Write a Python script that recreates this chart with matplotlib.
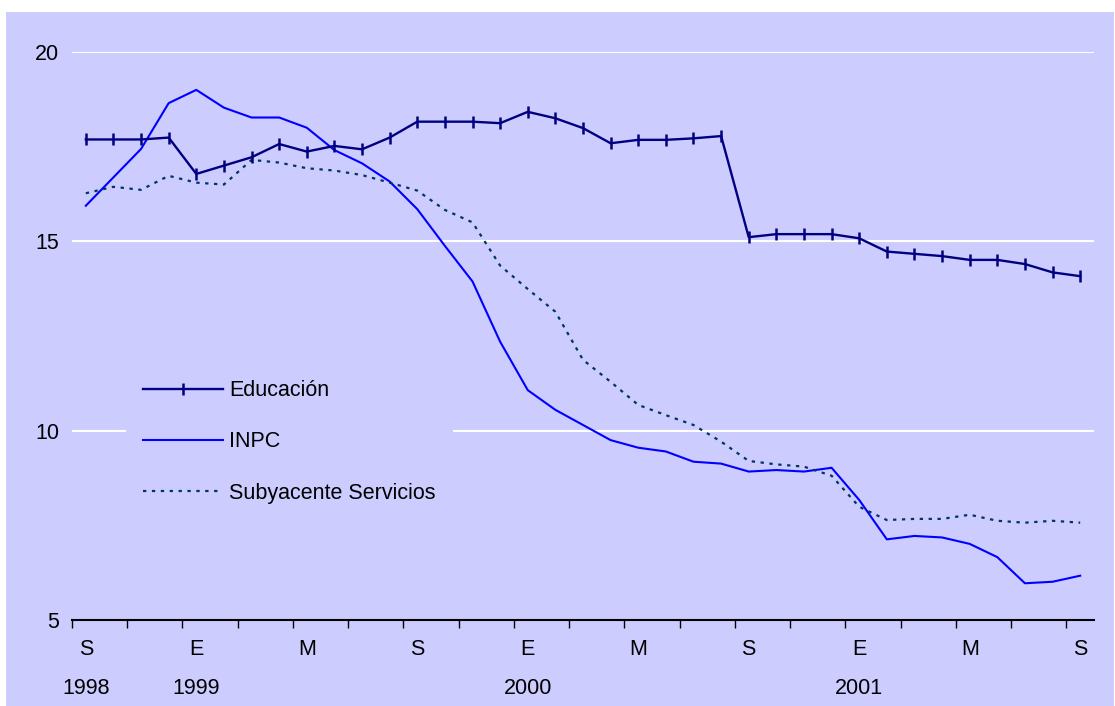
import numpy as np
import matplotlib.pyplot as plt
from matplotlib.patches import Rectangle

plt.rcParams['font.family'] = ['Liberation Sans', 'DejaVu Sans']

# Datos mensuales, sep 1998 - sep 2001
educacion = [17.69, 17.69, 17.69, 17.74, 16.78, 17.00, 17.22, 17.57, 17.37, 17.52,
             17.43, 17.74, 18.16, 18.16, 18.16, 18.12, 18.42, 18.25, 17.99, 17.59,
             17.68, 17.68, 17.72, 17.78, 15.11, 15.19, 15.19, 15.19, 15.08, 14.73,
             14.67, 14.61, 14.51, 14.51, 14.40, 14.18, 14.08]
inpc = [15.94, 16.69, 17.44, 18.65, 19.00, 18.53, 18.27, 18.27, 18.00, 17.41,
        17.06, 16.58, 15.85, 14.88, 13.94, 12.35, 11.07, 10.55, 10.15, 9.75,
        9.55, 9.45, 9.18, 9.13, 8.92, 8.96, 8.92, 9.02, 8.17, 7.13,
        7.22, 7.18, 7.01, 6.66, 5.97, 6.01, 6.17]
subyacente = [16.27, 16.44, 16.36, 16.73, 16.55, 16.50, 17.15, 17.08, 16.93, 16.87,
              16.75, 16.55, 16.34, 15.83, 15.50, 14.36, 13.74, 13.14, 11.87, 11.29,
              10.68, 10.41, 10.15, 9.71, 9.20, 9.11, 9.05, 8.81, 7.99, 7.64,
              7.67, 7.67, 7.78, 7.62, 7.57, 7.62, 7.57]
meses = ['S', 'E', 'M', 'S', 'E', 'M', 'S', 'E', 'M', 'S']
anios = {0: '1998', 4: '1999', 16: '2000', 28: '2001'}

fondo = '#CCCCFF'
x = np.arange(len(educacion))

fig = plt.figure(figsize=(11.15, 7.06), dpi=100, facecolor='white')
fig.patches.append(Rectangle((6 / 1115, 0), 1108 / 1115, 694 / 706,
                             transform=fig.transFigure, facecolor=fondo,
                             edgecolor='none', zorder=-10))
ax = fig.add_axes([72 / 1115, 86 / 706, 1022 / 1115, 568 / 706])
ax.set_facecolor(fondo)

ax.plot(x, educacion, color='#000080', linewidth=1.7, marker='|',
        markersize=8, markeredgewidth=1.8, label='Educación', zorder=4)
ax.plot(x, inpc, color='#0000FF', linewidth=1.5, label='INPC', zorder=3)
ax.plot(x, subyacente, color='#003366', linewidth=1.6, linestyle=(0, (1.5, 2.5)),
        label='Subyacente Servicios', zorder=3)

ax.set_xlim(-0.5, 36.5)
ax.set_ylim(5, 20)
ax.set_yticks([5, 10, 15, 20])
ax.yaxis.grid(True, color='white', linewidth=1.5)
ax.set_axisbelow(True)
ax.tick_params(axis='y', length=0, pad=9, labelsize=15.5)

ax.set_xticks(range(0, 37, 4))
ax.set_xticklabels(meses)
ax.set_xticks(np.arange(-0.5, 36, 2), minor=True)
ax.tick_params(axis='x', which='major', length=0, pad=13.5, labelsize=15.5)
ax.tick_params(axis='x', which='minor', length=6, width=1, direction='out', color='black')

for s in ['top', 'right', 'left']:
    ax.spines[s].set_visible(False)
ax.spines['bottom'].set_linewidth(1.5)

trans = ax.get_xaxis_transform()
for pos, txt in anios.items():
    ax.text(pos, -0.12, txt, transform=trans, ha='center', va='center', fontsize=15.5)

leg = ax.legend(loc='upper left', bbox_to_anchor=(126 / 1115, (706 - 363) / 706),
                bbox_transform=fig.transFigure, borderaxespad=0, borderpad=0.8,
                handlelength=3.7, handletextpad=0.3, labelspacing=1.4,
                fontsize=15.5, frameon=True, fancybox=False, numpoints=1)
leg.get_frame().set_facecolor(fondo)
leg.get_frame().set_edgecolor('none')
leg.get_frame().set_alpha(1)

plt.savefig('out.png', dpi=100, facecolor='white')
